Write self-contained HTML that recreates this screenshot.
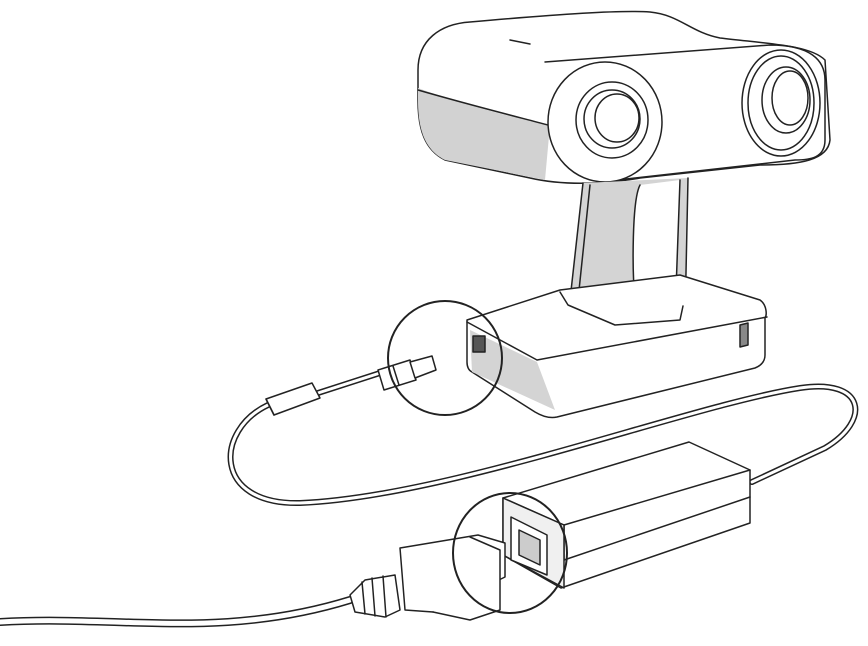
<!DOCTYPE html>
<html><head><style>html,body{margin:0;padding:0;background:#fff}svg{display:block}</style></head>
<body>
<svg width="868" height="646" viewBox="0 0 868 646" xmlns="http://www.w3.org/2000/svg" fill="none" stroke="#222" stroke-width="1.5" stroke-linejoin="round" stroke-linecap="round">
<!-- cables (double line) -->
<g>
<path d="M268 405 C215 430, 212 505, 300 503 C450 497, 690 405, 800 388 C865 378, 872 420, 825 448 L752 482" stroke="#222" stroke-width="6"/>
<path d="M268 405 C215 430, 212 505, 300 503 C450 497, 690 405, 800 388 C865 378, 872 420, 825 448 L752 482" stroke="#fff" stroke-width="3"/>
<path d="M318 393 L380 373" stroke="#222" stroke-width="6"/>
<path d="M318 393 L380 373" stroke="#fff" stroke-width="3"/>
<path d="M0 622 C120 615, 220 640, 350 600" stroke="#222" stroke-width="8"/>
<path d="M0 622 C120 615, 220 640, 350 600" stroke="#fff" stroke-width="5"/>
</g>
<!-- ferrite -->
<path d="M266 399 L312 383 L320 398 L274 415 Z" fill="#fff"/>
<path d="M266 399 L274 415" />
<!-- DC plug -->
<path d="M378 370 L410 360 L416 380 L384 390 Z" fill="#fff"/>
<path d="M393 366 L399 385"/>
<path d="M410 362 L432 356 L436 370 L415 378 Z" fill="#fff"/>
<!-- camera head -->
<path d="M470 22 C560 14, 620 10, 650 12 C680 15, 690 32, 720 38 C770 44, 810 45, 825 60 L830 140 C828 160, 800 165, 760 165 L640 178 C600 185, 560 185, 530 178 L445 160 C425 150, 418 130, 418 100 L418 70 C418 40, 440 24, 470 22 Z" fill="#fff"/>
<path d="M418 88 C450 100, 500 115, 550 125 L545 180 L445 160 C425 150, 418 130, 418 100 Z" fill="#d2d2d2" stroke="none"/>
<path d="M418 90 C470 105, 510 115, 548 125"/>
<path d="M545 62 L770 45 C810 45, 825 60, 825 80 L825 140 C825 158, 810 160, 795 160 L600 182"/>
<ellipse cx="605" cy="122" rx="57" ry="60" fill="#fff"/>
<ellipse cx="612" cy="120" rx="36" ry="38"/>
<ellipse cx="612" cy="119" rx="28" ry="29"/>
<ellipse cx="617" cy="118" rx="22" ry="24"/>
<ellipse cx="781" cy="103" rx="39" ry="53" fill="#fff"/>
<ellipse cx="781" cy="103" rx="33" ry="47"/>
<ellipse cx="786" cy="100" rx="24" ry="33"/>
<ellipse cx="790" cy="98" rx="18" ry="27"/>
<path d="M510 40 L530 44"/>
<!-- neck -->
<path d="M583 183 L570 300 L618 322 L685 320 L688 178" fill="#d4d4d4"/>
<path d="M590 185 L578 300"/>
<path d="M640 185 C632 200, 632 270, 635 300 L650 315 L675 318 L680 180" fill="#fff"/>
<!-- base -->
<path d="M467 320 L560 290 L680 275 L760 300 C767 305, 767 315, 765 318 L765 355 C765 362, 760 366, 755 368 L557 417 C548 419, 540 415, 535 412 L472 372 C468 370, 467 366, 467 362 Z" fill="#fff"/>
<path d="M470 330 L537 362 L555 410 L472 372 Z" fill="#d4d4d4" stroke="none"/>
<path d="M467 322 L537 360 L767 317"/>
<path d="M560 292 L568 305 L615 325 L680 320 L683 306"/>
<rect x="473" y="336" width="12" height="16" fill="#555"/>
<path d="M740 325 L748 323 L748 345 L740 347 Z" fill="#888"/>
<!-- power supply -->
<path d="M503 498 L689 442 L750 470 L750 523 L561 588 L503 555 Z" fill="#fff"/>
<path d="M564 560 L750 497"/>
<path d="M503 498 L564 525 L564 560"/>
<path d="M564 525 L750 470"/>
<path d="M503 498 L564 525 L564 588 L503 555 Z" fill="#f0f0f0"/>
<path d="M511 517 L547 535 L547 575 L511 560 Z" fill="#fff"/>
<path d="M519 530 L540 540 L540 565 L519 555 Z" fill="#ccc"/>
<!-- power plug -->
<path d="M400 548 L478 535 L505 543 L505 577 L433 612 L405 610 Z" fill="#fff"/>
<path d="M470 537 L500 550 L500 610 L470 620 L433 612" fill="#fff"/>
<path d="M350 595 L365 580 L395 575 L400 610 L385 617 L355 612 Z" fill="#fff"/>
<path d="M362 582 L365 614 M372 578 L375 616 M383 576 L386 617"/>
<!-- circles -->
<circle cx="445" cy="358" r="57" stroke="#222" stroke-width="2"/>
<ellipse cx="510" cy="553" rx="57" ry="60" stroke="#222" stroke-width="2"/>
</svg>
</body></html>
